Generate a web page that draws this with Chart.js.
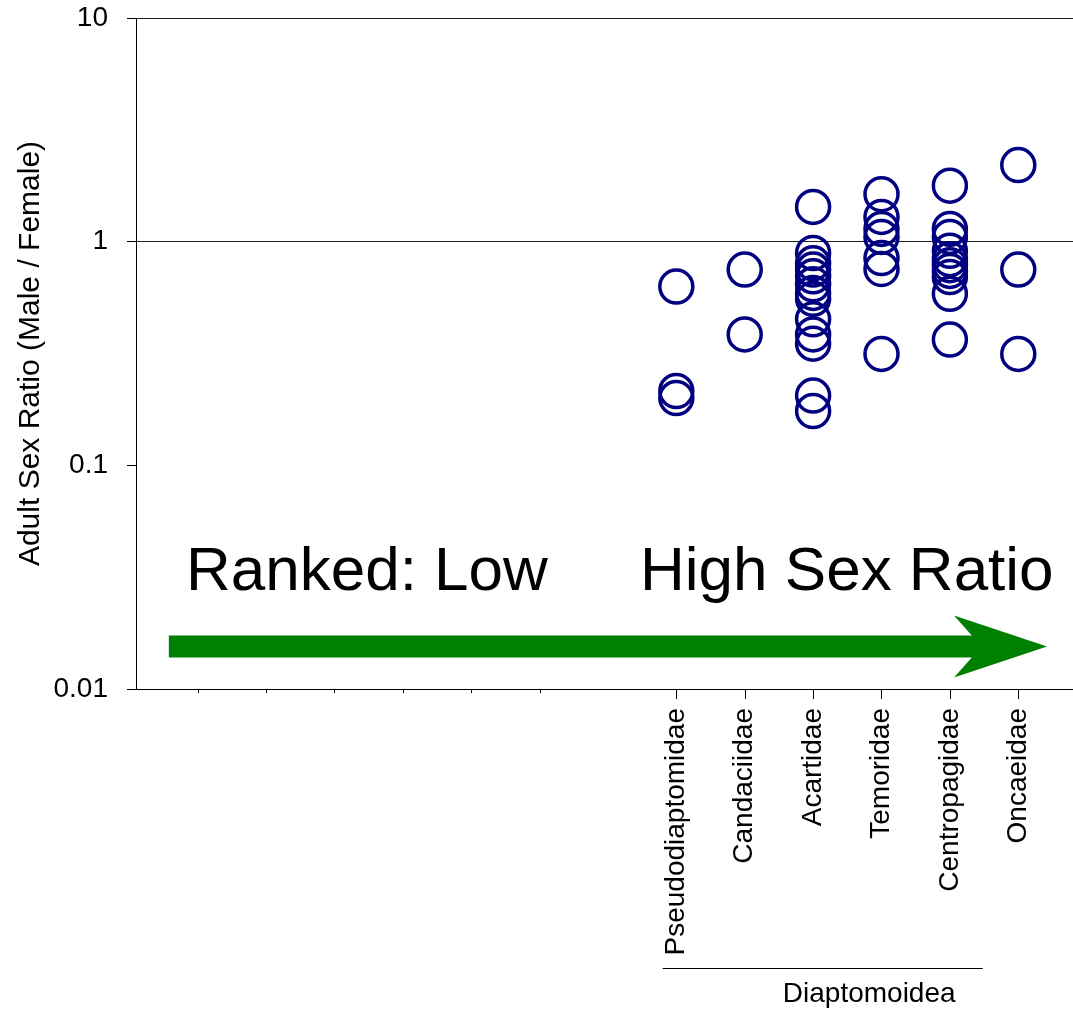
<!DOCTYPE html>
<html>
<head>
<meta charset="utf-8">
<script src="https://cdn.jsdelivr.net/npm/chart.js@4.4.1/dist/chart.umd.min.js"></script>
<style>
    html, body { margin: 0; padding: 0; background: #fff; }
    canvas { display: block; }
</style>
</head>
<body>
<canvas id="sexRatioChart" width="1073" height="1009"></canvas>
<script>
// families, ranked from low to high sex ratio
const families = ['Pseudodiaptomidae', 'Candaciidae', 'Acartidae', 'Temoridae', 'Centropagidae', 'Oncaeidae'];
const firstFamilyPos = 8;
const minorTickPos = [1, 2, 3, 4, 5, 6];
const yTicks = [0.01, 0.1, 1, 10];

// adult sex ratio (male / female), one value per study
const pseudodiaptomidae = [0.63, 0.215, 0.20];
const candaciidae = [0.75, 0.385];
const acartidae = [1.43, 0.89, 0.80, 0.75, 0.70, 0.645, 0.59, 0.555, 0.45, 0.385, 0.35, 0.205, 0.175];
const temoridae = [1.63, 1.29, 1.14, 1.05, 0.845, 0.755, 0.315];
const centropagidae = [1.78, 1.14, 1.05, 0.91, 0.835, 0.785, 0.74, 0.695, 0.585, 0.365];
const oncaeidae = [2.2, 0.75, 0.315];

const familyValues = [pseudodiaptomidae, candaciidae, acartidae, temoridae, centropagidae, oncaeidae];

// annotation anchors, in axis units
const arrowFrom = 0.58;
const arrowNotch = 12.32;
const arrowHeadBase = 12.06;
const arrowTip = 13.42;
const arrowLevel = 0.0155;
const textLevel = 0.0277;
const lowTextPos = 0.83;
const highTextPos = 7.47;
const groupFrom = 7.8;
const groupTo = 12.48;
const groupLabelPos = 10.82;

const points = [];
familyValues.forEach((vals, i) => {
    vals.forEach(v => points.push({ x: firstFamilyPos + i, y: v }));
});

const FONT = "'Liberation Sans', Arial, sans-serif";

// arrow, ranking text, extra ticks and the superfamily bracket
const annotations = {
    id: 'annotations',
    afterDraw(chart) {
        const { ctx, scales: { x, y } } = chart;
        ctx.save();

        // tick marks under the x axis
        ctx.strokeStyle = '#000';
        ctx.lineWidth = 1;
        const axisY = x.top;
        const drawTick = (v, len) => {
            const px = Math.round(x.getPixelForValue(v)) + 0.5;
            ctx.beginPath();
            ctx.moveTo(px, axisY);
            ctx.lineTo(px, axisY + len);
            ctx.stroke();
        };
        minorTickPos.forEach(v => drawTick(v, 4));
        families.forEach((f, i) => drawTick(firstFamilyPos + i, 10));

        // green arrow
        const cy = y.getPixelForValue(arrowLevel);
        const x0 = x.getPixelForValue(arrowFrom);
        const xn = x.getPixelForValue(arrowNotch);
        const xb = x.getPixelForValue(arrowHeadBase);
        const xt = x.getPixelForValue(arrowTip);
        ctx.fillStyle = '#008000';
        ctx.beginPath();
        ctx.moveTo(x0, cy - 11);
        ctx.lineTo(xn, cy - 11);
        ctx.lineTo(xb, cy - 31);
        ctx.lineTo(xt, cy);
        ctx.lineTo(xb, cy + 31);
        ctx.lineTo(xn, cy + 11);
        ctx.lineTo(x0, cy + 11);
        ctx.closePath();
        ctx.fill();

        // ranking text
        ctx.fillStyle = '#000';
        ctx.font = '62px ' + FONT;
        ctx.textAlign = 'left';
        ctx.textBaseline = 'alphabetic';
        const ty = y.getPixelForValue(textLevel);
        ctx.fillText('Ranked: Low', x.getPixelForValue(lowTextPos), ty);
        ctx.fillText('High Sex Ratio', x.getPixelForValue(highTextPos), ty);

        // Diaptomoidea bracket
        const lineY = chart.height - 40.5;
        ctx.beginPath();
        ctx.moveTo(x.getPixelForValue(groupFrom), lineY);
        ctx.lineTo(x.getPixelForValue(groupTo), lineY);
        ctx.stroke();
        ctx.font = '28px ' + FONT;
        ctx.textAlign = 'center';
        ctx.fillText('Diaptomoidea', x.getPixelForValue(groupLabelPos), chart.height - 7);

        ctx.restore();
    }
};

new Chart(document.getElementById('sexRatioChart'), {
    type: 'scatter',
    data: {
        datasets: [{
            data: points,
            pointStyle: 'circle',
            pointRadius: 16.5,
            pointHoverRadius: 16.5,
            borderWidth: 3.5,
            borderColor: '#000080',
            backgroundColor: 'rgba(0,0,0,0)'
        }]
    },
    options: {
        responsive: false,
        animation: false,
        events: [],
        layout: {
            autoPadding: false,
            padding: { top: 18, right: 0, left: 0, bottom: 0 }
        },
        plugins: {
            legend: { display: false },
            tooltip: { enabled: false }
        },
        scales: {
            x: {
                type: 'linear',
                min: 0.1,
                max: 13.8,
                afterFit: s => {
                    s.height = 320;
                    s.paddingLeft = 0;
                    s.paddingRight = 0;
                },
                afterBuildTicks: s => {
                    s.ticks = families.map((f, i) => ({ value: firstFamilyPos + i }));
                },
                grid: { display: false },
                border: { display: true, color: '#000', width: 1 },
                ticks: {
                    autoSkip: false,
                    minRotation: 90,
                    maxRotation: 90,
                    padding: 11,
                    color: '#000',
                    font: { family: FONT, size: 28 },
                    callback: v => families[v - firstFamilyPos] || ''
                }
            },
            y: {
                type: 'logarithmic',
                min: 0.01,
                max: 10,
                afterFit: s => {
                    s.width = 136;
                    s.paddingTop = 0;
                    s.paddingBottom = 0;
                },
                afterBuildTicks: s => {
                    s.ticks = yTicks.map(v => ({ value: v }));
                },
                grid: {
                    drawOnChartArea: true,
                    color: ctx => (ctx.tick && ctx.tick.value >= 1) ? '#222' : 'rgba(0,0,0,0)',
                    tickColor: '#000',
                    tickLength: 9,
                    lineWidth: 1
                },
                border: { display: true, color: '#000', width: 1 },
                title: {
                    display: true,
                    text: 'Adult Sex Ratio (Male / Female)',
                    color: '#000',
                    font: { family: FONT, size: 30 },
                    padding: { top: 13, bottom: 0 }
                },
                ticks: {
                    padding: 19,
                    color: '#000',
                    font: { family: FONT, size: 28 },
                    callback: v => String(v)
                }
            }
        }
    },
    plugins: [annotations]
});
</script>
</body>
</html>
